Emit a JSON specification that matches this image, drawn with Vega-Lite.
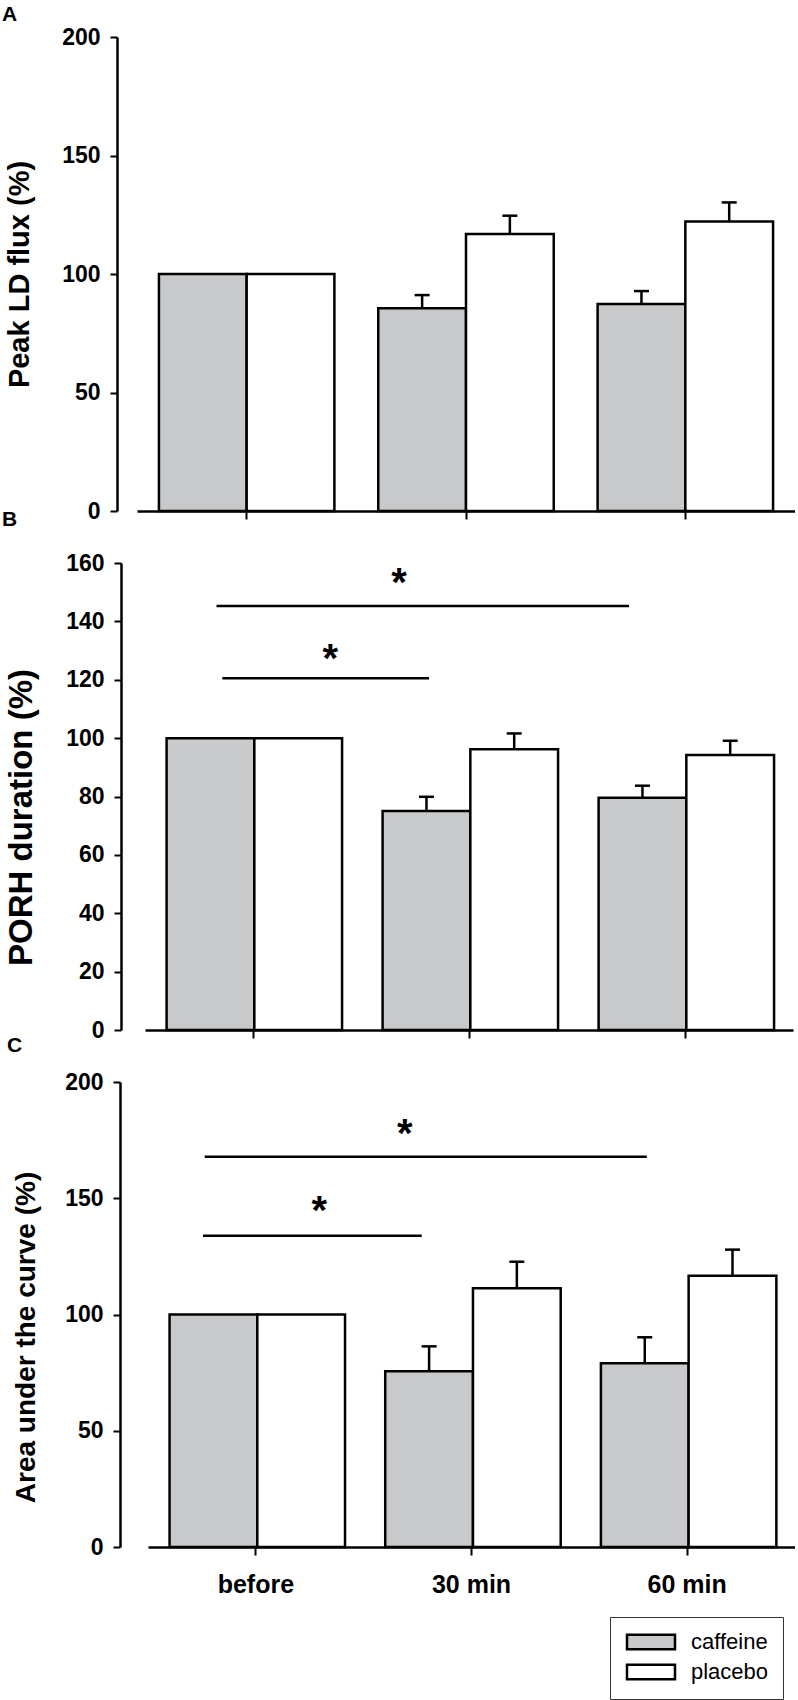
{
  "$schema": "https://vega.github.io/schema/vega-lite/v6.json",
  "background": "white",
  "padding": {"left": 2, "top": 4, "right": 0, "bottom": 0},
  "spacing": 52,
  "bounds": "flush",
  "datasets": {
    "peak": [
      {"time": "before", "treatment": "caffeine", "mean": 100, "upper": null},
      {"time": "before", "treatment": "placebo", "mean": 100, "upper": null},
      {"time": "30 min", "treatment": "caffeine", "mean": 85.6, "upper": 91.1},
      {"time": "30 min", "treatment": "placebo", "mean": 116.9, "upper": 124.6},
      {"time": "60 min", "treatment": "caffeine", "mean": 87.3, "upper": 92.8},
      {"time": "60 min", "treatment": "placebo", "mean": 122.1, "upper": 130.2}
    ],
    "porh": [
      {"time": "before", "treatment": "caffeine", "mean": 100, "upper": null},
      {"time": "before", "treatment": "placebo", "mean": 100, "upper": null},
      {"time": "30 min", "treatment": "caffeine", "mean": 75.0, "upper": 79.9},
      {"time": "30 min", "treatment": "placebo", "mean": 96.2, "upper": 101.6},
      {"time": "60 min", "treatment": "caffeine", "mean": 79.6, "upper": 83.7},
      {"time": "60 min", "treatment": "placebo", "mean": 94.2, "upper": 99.1}
    ],
    "auc": [
      {"time": "before", "treatment": "caffeine", "mean": 100, "upper": null},
      {"time": "before", "treatment": "placebo", "mean": 100, "upper": null},
      {"time": "30 min", "treatment": "caffeine", "mean": 75.6, "upper": 86.3},
      {"time": "30 min", "treatment": "placebo", "mean": 111.3, "upper": 122.7},
      {"time": "60 min", "treatment": "caffeine", "mean": 79.0, "upper": 90.2},
      {"time": "60 min", "treatment": "placebo", "mean": 116.7, "upper": 127.9}
    ],
    "porh_sig": [
      {"x_start": 0.331, "x_end": 2.241, "level": 145.3, "star_x": 1.176, "star_level": 155.5, "label": "*"},
      {"x_start": 0.358, "x_end": 1.315, "level": 120.5, "star_x": 0.858, "star_level": 129.5, "label": "*"}
    ],
    "auc_sig": [
      {"x_start": 0.263, "x_end": 2.313, "level": 167.9, "star_x": 1.191, "star_level": 180.5, "label": "*"},
      {"x_start": 0.255, "x_end": 1.269, "level": 133.9, "star_x": 0.794, "star_level": 147.5, "label": "*"}
    ]
  },
  "resolve": {"scale": {"fill": "independent"}, "legend": {"fill": "independent"}},
  "vconcat": [
    {
      "title": {"text": "A", "anchor": "start", "frame": "group", "dx": -135, "offset": 1, "fontSize": 21, "fontWeight": "bold", "color": "black"},
      "width": 658,
      "height": 474,
      "data": {"name": "peak"},
      "layer": [
        {
          "mark": {"type": "bar", "stroke": "black", "strokeWidth": 2.5},
          "encoding": {
            "x": {"field": "time", "type": "nominal", "scale": {"domain": ["before", "30 min", "60 min"], "paddingInner": 0.2, "paddingOuter": 0.1, "range": [0, 658]},
                  "axis": {"title": null, "labels": false, "tickSize": 8}},
            "xOffset": {"field": "treatment", "type": "nominal", "scale": {"domain": ["caffeine", "placebo"], "paddingInner": 0, "paddingOuter": 0}},
            "y": {"field": "mean", "type": "quantitative", "scale": {"domain": [0, 200], "nice": false},
                  "axis": {"title": "Peak LD flux (%)", "values": [0, 50, 100, 150, 200], "offset": 20, "tickSize": 7, "labelFontSize": 23, "labelPadding": 10, "labelOverlap": false, "titleFontSize": 29, "titleX": -83, "titleY": 237}},
            "fill": {"field": "treatment", "type": "nominal", "scale": {"domain": ["caffeine", "placebo"], "range": ["#c8c9cb", "#ffffff"]}, "legend": null}
          }
        },
        {
          "transform": [{"filter": "datum.upper != null"}],
          "mark": {"type": "rule", "strokeWidth": 2.5, "color": "black"},
          "encoding": {
            "x": {"field": "time", "type": "nominal"},
            "xOffset": {"field": "treatment", "type": "nominal"},
            "y": {"field": "mean", "type": "quantitative"},
            "y2": {"field": "upper"}
          }
        },
        {
          "transform": [{"filter": "datum.upper != null"}],
          "mark": {"type": "tick", "thickness": 2.5, "size": 15, "color": "black", "opacity": 1},
          "encoding": {
            "x": {"field": "time", "type": "nominal"},
            "xOffset": {"field": "treatment", "type": "nominal"},
            "y": {"field": "upper", "type": "quantitative"}
          }
        }
      ]
    },
    {
      "title": {"text": "B", "anchor": "start", "frame": "group", "dx": -135, "offset": 22, "fontSize": 21, "fontWeight": "bold", "color": "black"},
      "width": 656,
      "height": 467,
      "resolve": {"scale": {"x": "independent"}, "axis": {"x": "independent"}},
      "layer": [
        {
          "data": {"name": "porh"},
          "layer": [
            {
              "mark": {"type": "bar", "stroke": "black", "strokeWidth": 2.5},
              "encoding": {
                "x": {"field": "time", "type": "nominal", "scale": {"domain": ["before", "30 min", "60 min"], "paddingInner": 0.2, "paddingOuter": 0.1, "range": [8, 656]},
                      "axis": {"title": null, "labels": false, "tickSize": 8}},
                "xOffset": {"field": "treatment", "type": "nominal", "scale": {"domain": ["caffeine", "placebo"], "paddingInner": 0, "paddingOuter": 0}},
                "y": {"field": "mean", "type": "quantitative", "scale": {"domain": [0, 160], "nice": false},
                      "axis": {"title": "PORH duration (%)", "values": [0, 20, 40, 60, 80, 100, 120, 140, 160], "offset": 16, "tickSize": 7, "labelFontSize": 23, "labelPadding": 10, "labelOverlap": false, "titleFontSize": 33, "titleX": -83, "titleY": 254}},
                "fill": {"field": "treatment", "type": "nominal", "scale": {"domain": ["caffeine", "placebo"], "range": ["#c8c9cb", "#ffffff"]}, "legend": null}
              }
            },
            {
              "transform": [{"filter": "datum.upper != null"}],
              "mark": {"type": "rule", "strokeWidth": 2.5, "color": "black"},
              "encoding": {
                "x": {"field": "time", "type": "nominal"},
                "xOffset": {"field": "treatment", "type": "nominal"},
                "y": {"field": "mean", "type": "quantitative"},
                "y2": {"field": "upper"}
              }
            },
            {
              "transform": [{"filter": "datum.upper != null"}],
              "mark": {"type": "tick", "thickness": 2.5, "size": 15, "color": "black", "opacity": 1},
              "encoding": {
                "x": {"field": "time", "type": "nominal"},
                "xOffset": {"field": "treatment", "type": "nominal"},
                "y": {"field": "upper", "type": "quantitative"}
              }
            }
          ]
        },
        {
          "data": {"name": "porh_sig"},
          "layer": [
            {
              "mark": {"type": "rule", "strokeWidth": 2.5, "color": "black"},
              "encoding": {
                "x": {"field": "x_start", "type": "quantitative", "scale": {"domain": [0, 3], "range": [8, 656], "nice": false, "zero": false}, "axis": null},
                "x2": {"field": "x_end"},
                "y": {"field": "level", "type": "quantitative"}
              }
            },
            {
              "mark": {"type": "text", "fontSize": 40, "fontWeight": "bold", "baseline": "alphabetic", "dy": 20, "color": "black", "font": "Liberation Sans"},
              "encoding": {
                "x": {"field": "star_x", "type": "quantitative"},
                "y": {"field": "star_level", "type": "quantitative"},
                "text": {"field": "label"}
              }
            }
          ]
        }
      ]
    },
    {
      "title": {"text": "C", "anchor": "start", "frame": "group", "dx": -130, "offset": 15, "fontSize": 21, "fontWeight": "bold", "color": "black"},
      "width": 658,
      "height": 465,
      "resolve": {"scale": {"x": "independent"}, "axis": {"x": "independent"}},
      "layer": [
        {
          "data": {"name": "auc"},
          "layer": [
            {
              "mark": {"type": "bar", "stroke": "black", "strokeWidth": 2.5},
              "encoding": {
                "x": {"field": "time", "type": "nominal", "scale": {"domain": ["before", "30 min", "60 min"], "paddingInner": 0.2, "paddingOuter": 0.1, "range": [11, 658]},
                      "axis": {"title": null, "labels": true, "tickSize": 8, "labelAngle": 0, "labelFontSize": 25, "labelPadding": 17}},
                "xOffset": {"field": "treatment", "type": "nominal", "scale": {"domain": ["caffeine", "placebo"], "paddingInner": 0, "paddingOuter": 0}},
                "y": {"field": "mean", "type": "quantitative", "scale": {"domain": [0, 200], "nice": false},
                      "axis": {"title": "Area under the curve (%)", "values": [0, 50, 100, 150, 200], "offset": 17, "tickSize": 7, "labelFontSize": 23, "labelPadding": 10, "labelOverlap": false, "titleFontSize": 28, "titleX": -80, "titleY": 255}},
                "fill": {"field": "treatment", "type": "nominal", "scale": {"domain": ["caffeine", "placebo"], "range": ["#c8c9cb", "#ffffff"]},
                         "legend": {"orient": "none", "legendX": 473, "legendY": 535, "title": null, "symbolType": "M-1,-0.9H5V0.9H-1Z", "symbolSize": 256, "symbolStrokeColor": "black", "symbolStrokeWidth": 2.5, "labelFontSize": 22, "labelFont": "Liberation Sans", "labelFontWeight": "normal", "labelColor": "black", "labelOffset": 45, "padding": 14, "rowPadding": 4, "strokeColor": "#333333", "fillColor": "white"}}
              }
            },
            {
              "transform": [{"filter": "datum.upper != null"}],
              "mark": {"type": "rule", "strokeWidth": 2.5, "color": "black"},
              "encoding": {
                "x": {"field": "time", "type": "nominal"},
                "xOffset": {"field": "treatment", "type": "nominal"},
                "y": {"field": "mean", "type": "quantitative"},
                "y2": {"field": "upper"}
              }
            },
            {
              "transform": [{"filter": "datum.upper != null"}],
              "mark": {"type": "tick", "thickness": 2.5, "size": 15, "color": "black", "opacity": 1},
              "encoding": {
                "x": {"field": "time", "type": "nominal"},
                "xOffset": {"field": "treatment", "type": "nominal"},
                "y": {"field": "upper", "type": "quantitative"}
              }
            }
          ]
        },
        {
          "data": {"name": "auc_sig"},
          "layer": [
            {
              "mark": {"type": "rule", "strokeWidth": 2.5, "color": "black"},
              "encoding": {
                "x": {"field": "x_start", "type": "quantitative", "scale": {"domain": [0, 3], "range": [11, 658], "nice": false, "zero": false}, "axis": null},
                "x2": {"field": "x_end"},
                "y": {"field": "level", "type": "quantitative"}
              }
            },
            {
              "mark": {"type": "text", "fontSize": 40, "fontWeight": "bold", "baseline": "alphabetic", "dy": 20, "color": "black", "font": "Liberation Sans"},
              "encoding": {
                "x": {"field": "star_x", "type": "quantitative"},
                "y": {"field": "star_level", "type": "quantitative"},
                "text": {"field": "label"}
              }
            }
          ]
        }
      ]
    }
  ],
  "config": {
    "view": {"stroke": null},
    "font": "Liberation Sans",
    "axis": {"grid": false, "domainColor": "black", "domainWidth": 2.5, "tickColor": "black", "tickWidth": 2, "labelColor": "black", "labelFontWeight": "bold", "labelFont": "Liberation Sans", "titleColor": "black", "titleFontWeight": "bold", "titleFont": "Liberation Sans"},
    "title": {"font": "Liberation Sans", "color": "black"}
  }
}
